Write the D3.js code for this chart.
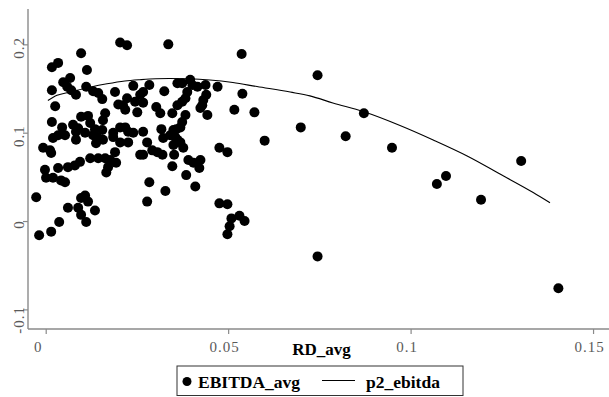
<!DOCTYPE html>
<html>
<head>
<meta charset="utf-8">
<script src="https://cdn.jsdelivr.net/npm/d3@7"></script>
<style>
  html, body { margin: 0; padding: 0; background: #fff; }
  svg { display: block; }
</style>
</head>
<body>
<svg id="chart" width="609" height="397"></svg>
<script>
// ---- data ----
const rdAvg = [
  -0.0026,-0.0018,0.0015,0.0037,-0.0007,0.0012,0.0015,0.0017,0.0034,0.0017,
  0.0026,0.0017,-0.0002,0.0001,0.0020,0.0034,0.0042,0.0053,0.0020,0.0034,
  0.0045,0.0097,0.0113,0.0067,0.0048,0.0059,0.0070,0.0083,0.0111,0.0130,
  0.0144,0.0155,0.0097,0.0116,0.0075,0.0089,0.0122,0.0135,0.0053,0.0083,
  0.0083,0.0130,0.0138,0.0108,0.0061,0.0080,0.0094,0.0122,0.0144,0.0108,
  0.0097,0.0116,0.0135,0.0089,0.0061,0.0097,0.0111,0.0204,0.0223,0.0190,
  0.0240,0.0163,0.0157,0.0155,0.0141,0.0199,0.0212,0.0218,0.0223,0.0245,
  0.0251,0.0259,0.0267,0.0267,0.0204,0.0218,0.0226,0.0185,0.0157,0.0185,
  0.0204,0.0226,0.0240,0.0163,0.0177,0.0190,0.0193,0.0171,0.0166,0.0259,
  0.0336,0.0284,0.0325,0.0361,0.0374,0.0396,0.0402,0.0416,0.0388,0.0383,
  0.0374,0.0361,0.0303,0.0314,0.0347,0.0383,0.0374,0.0369,0.0358,0.0317,
  0.0267,0.0322,0.0350,0.0355,0.0350,0.0377,0.0278,0.0292,0.0306,0.0320,
  0.0267,0.0341,0.0361,0.0369,0.0352,0.0391,0.0405,0.0424,0.0421,0.0347,
  0.0385,0.0284,0.0328,0.0410,0.0278,0.0438,0.0471,0.0440,0.0432,0.0429,
  0.0424,0.0443,0.0539,0.0517,0.0572,0.0537,0.0476,0.0498,0.0476,0.0498,
  0.0509,0.0531,0.0545,0.0504,0.0498,0.0600,0.0699,0.0745,0.0745,0.0822,
  0.0872,0.0949,0.1072,0.1097,0.1193,0.1303,0.1405
];
const ebitdaAvg = [
  0.027,-0.016,-0.012,-0.001,0.083,0.080,0.077,0.174,0.179,0.148,
  0.130,0.112,0.058,0.049,0.049,0.060,0.046,0.044,0.094,0.097,
  0.106,0.190,0.171,0.162,0.157,0.152,0.148,0.143,0.152,0.147,
  0.145,0.138,0.118,0.119,0.109,0.105,0.111,0.104,0.097,0.092,
  0.101,0.097,0.088,0.100,0.061,0.063,0.067,0.071,0.071,0.029,
  0.026,0.022,0.012,0.015,0.015,0.007,-0.001,0.202,0.199,0.146,
  0.153,0.122,0.114,0.103,0.095,0.132,0.131,0.126,0.139,0.135,
  0.123,0.143,0.146,0.134,0.106,0.106,0.101,0.100,0.092,0.095,
  0.089,0.089,0.100,0.071,0.069,0.078,0.066,0.061,0.055,0.075,
  0.200,0.154,0.147,0.156,0.156,0.160,0.154,0.152,0.146,0.139,
  0.135,0.131,0.129,0.122,0.122,0.120,0.112,0.106,0.104,0.104,
  0.101,0.094,0.103,0.095,0.086,0.083,0.089,0.080,0.078,0.075,
  0.075,0.097,0.092,0.089,0.075,0.069,0.066,0.069,0.060,0.062,
  0.052,0.044,0.034,0.039,0.022,0.154,0.152,0.143,0.137,0.131,
  0.128,0.120,0.144,0.126,0.123,0.189,0.083,0.078,0.020,0.019,
  0.003,0.006,0.000,-0.006,-0.015,0.091,0.106,0.165,-0.040,0.096,
  0.122,0.083,0.042,0.051,0.024,0.068,-0.076
];
// fitted p2_ebitda
const fitX = [0.0006,0.0031,0.0067,0.0121,0.0168,0.0217,0.0258,0.0302,0.0338,0.0395,
              0.0450,0.0513,0.0579,0.0670,0.0724,0.0787,0.0870,0.0971,0.1062,0.1155,
              0.1245,0.1336,0.1382];
const fitY = [0.1364,0.1423,0.1460,0.1514,0.1553,0.1585,0.1600,0.1611,0.1613,0.1610,
              0.1597,0.1568,0.1522,0.1460,0.1417,0.1336,0.1239,0.1081,0.0917,0.0736,
              0.0532,0.0323,0.0207];
const xTicks = [0, 0.05, 0.1, 0.15];
const xTickLabels = ["0", "0.05", "0.1", "0.15"];
const yTicks = [-0.1, 0, 0.1, 0.2];
const yTickLabels = ["-0.1", "0", "0.1", "0.2"];
const xTitle = "RD_avg";
const legendLabels = ["EBITDA_avg", "p2_ebitda"];

// ---- layout ----
const svg = d3.select("#chart");
const pLeft = 28, pRight = 609, pTop = 9, pBottom = 329;
const x = d3.scaleLinear().domain([-0.00485, 0.15437]).range([pLeft, pRight]);
const y = d3.scaleLinear().domain([-0.1222, 0.2400]).range([pBottom, pTop]);
const axisColor = "#8a8a8a";
const labelColor = "#5a5a5a";
const serif = "'Liberation Serif', 'DejaVu Serif', serif";

// x axis
const gx = svg.append("g").attr("transform", `translate(0,${pBottom})`)
  .call(d3.axisBottom(x).tickValues(xTicks).tickSize(5).tickSizeOuter(0)
    .tickFormat((d, i) => xTickLabels[i]));
gx.select(".domain").remove();
gx.selectAll(".tick line").attr("stroke", axisColor).attr("stroke-width", 1.2);
gx.selectAll(".tick text")
  .attr("fill", labelColor).attr("font-family", serif).attr("font-size", 15)
  .attr("letter-spacing", 1).attr("dy", 0).attr("y", 23)
  .attr("x", (d, i) => i === 0 ? -8 : -4);
svg.append("line").attr("x1", pLeft).attr("x2", pRight).attr("y1", pBottom).attr("y2", pBottom)
  .attr("stroke", axisColor).attr("stroke-width", 1.4);

// y axis
const gy = svg.append("g").attr("transform", `translate(${pLeft},0)`)
  .call(d3.axisLeft(y).tickValues(yTicks).tickSize(5).tickSizeOuter(0)
    .tickFormat((d, i) => yTickLabels[i]));
gy.select(".domain").remove();
gy.selectAll(".tick line").attr("stroke", axisColor).attr("stroke-width", 1.2);
gy.selectAll(".tick text")
  .attr("fill", labelColor).attr("font-family", serif).attr("font-size", 15)
  .attr("letter-spacing", 1)
  .attr("text-anchor", "middle").attr("dy", 0).attr("y", 0)
  .attr("x", (d, i) => i === 0 ? -10 : -3)
  .attr("transform", "translate(-4,0) rotate(-90)");
svg.append("line").attr("x1", pLeft).attr("x2", pLeft).attr("y1", pTop).attr("y2", pBottom)
  .attr("stroke", axisColor).attr("stroke-width", 1.4);

// x title
svg.append("text").attr("x", (pLeft + pRight) / 2 + 3).attr("y", 355)
  .attr("text-anchor", "middle").attr("font-family", serif).attr("font-weight", "bold")
  .attr("font-size", 17).attr("fill", "#000").text(xTitle);

// points
const pts = rdAvg.map((v, i) => [v, ebitdaAvg[i]]);
svg.append("g").selectAll("circle").data(pts).join("circle")
  .attr("cx", d => x(d[0])).attr("cy", d => y(d[1])).attr("r", 5).attr("fill", "#000");

// fitted curve
const fit = fitX.map((v, i) => [v, fitY[i]]);
svg.append("path").datum(fit)
  .attr("d", d3.line().x(d => x(d[0])).y(d => y(d[1])).curve(d3.curveMonotoneX))
  .attr("fill", "none").attr("stroke", "#000").attr("stroke-width", 1.1);

// legend
const lg = svg.append("g");
lg.append("rect").attr("x", 177).attr("y", 366).attr("width", 286).attr("height", 29.5)
  .attr("fill", "#fff").attr("stroke", "#333").attr("stroke-width", 1);
lg.append("circle").attr("cx", 187).attr("cy", 381.5).attr("r", 4.5).attr("fill", "#000");
lg.append("text").attr("x", 198).attr("y", 387.5).attr("font-family", serif)
  .attr("font-weight", "bold").attr("font-size", 17.5).attr("fill", "#000").text(legendLabels[0]);
lg.append("line").attr("x1", 322).attr("x2", 355).attr("y1", 380.5).attr("y2", 380.5)
  .attr("stroke", "#000").attr("stroke-width", 1.1);
lg.append("text").attr("x", 366).attr("y", 387.5).attr("font-family", serif)
  .attr("font-weight", "bold").attr("font-size", 17.5).attr("fill", "#000").text(legendLabels[1]);
</script>
</body>
</html>
